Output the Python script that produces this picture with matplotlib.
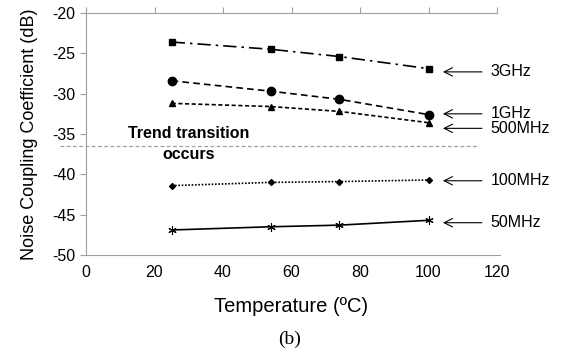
import numpy as np
import matplotlib
matplotlib.use('Agg')
import matplotlib.pyplot as plt

plt.rcParams['font.family'] = ['Liberation Sans', 'DejaVu Sans']
plt.rcParams['axes.unicode_minus'] = False

# data
temps = [25, 54, 74, 100]
ghz3 = [-23.6, -24.5, -25.4, -26.9]
ghz1 = [-28.4, -29.7, -30.7, -32.6]
mhz500 = [-31.2, -31.6, -32.2, -33.6]
mhz100 = [-41.4, -41.0, -40.9, -40.7]
mhz50 = [-46.9, -46.5, -46.3, -45.7]

labels = ['3GHz', '1GHz', '500MHz', '100MHz', '50MHz']
label_y = [-27.3, -32.5, -34.3, -40.8, -46.0]
trend_y = -36.5

fig = plt.figure(figsize=(5.63, 3.54), dpi=100)
ax = fig.add_axes([0.1528, 0.2797, 0.7300, 0.6836])

ax.plot(temps, ghz3, color='black', lw=1.2, ls=(0, (8, 3, 1.5, 3)), marker='s', ms=4.5)
ax.plot(temps, ghz1, color='black', lw=1.2, ls=(0, (4, 2.5)), marker='o', ms=6)
ax.plot(temps, mhz500, color='black', lw=1.2, ls=(0, (2.5, 1.5)), marker='^', ms=4.5)
ax.plot(temps, mhz100, color='black', lw=1.2, ls=(0, (1, 1)), marker='D', ms=3)
ax.plot(temps, mhz50, color='black', lw=1.2, ls='-', marker=(6, 2, 0), ms=6, mew=0.8)

# trend transition line
ax.plot([-7.5, 114.5], [trend_y, trend_y], color='#a0a0a0', lw=0.9, ls=(0, (3, 2)), clip_on=False)
ax.text(30, -35.0, 'Trend transition', ha='center', va='center', fontsize=11.5, fontweight='bold')
ax.text(30, -37.6, 'occurs', ha='center', va='center', fontsize=11.5, fontweight='bold')

for lab, y in zip(labels, label_y):
    ax.annotate('', xy=(104.2, y), xytext=(115.6, y),
                arrowprops=dict(arrowstyle='->,head_length=0.6,head_width=0.3', color='black', lw=0.8,
                                shrinkA=0, shrinkB=0),
                annotation_clip=False)
    ax.text(118.2, y, lab, ha='left', va='center', fontsize=11.5)

ax.set_xlim(0, 120)
ax.set_ylim(-50, -20)
ax.set_xticks(np.arange(0, 121, 20))
ax.set_yticks(np.arange(-50, -19, 5))
ax.tick_params(axis='both', labelsize=11.5, color='#a0a0a0', length=4)
ax.tick_params(axis='x', top=True, bottom=False, direction='out')

ax.spines['right'].set_visible(False)
for s in ['left', 'top', 'bottom']:
    ax.spines[s].set_color('#a0a0a0')
ax.spines['bottom'].set_bounds(0, 121)

ax.set_xlabel('Temperature (ºC)', fontsize=14.5, labelpad=12)
ax.set_ylabel('Noise Coupling Coefficient (dB)', fontsize=13, labelpad=10)

fig.text(0.515, 0.04, '(b)', ha='center', va='center', fontsize=14, family='Liberation Serif')

fig.savefig('out.png', dpi=100)
